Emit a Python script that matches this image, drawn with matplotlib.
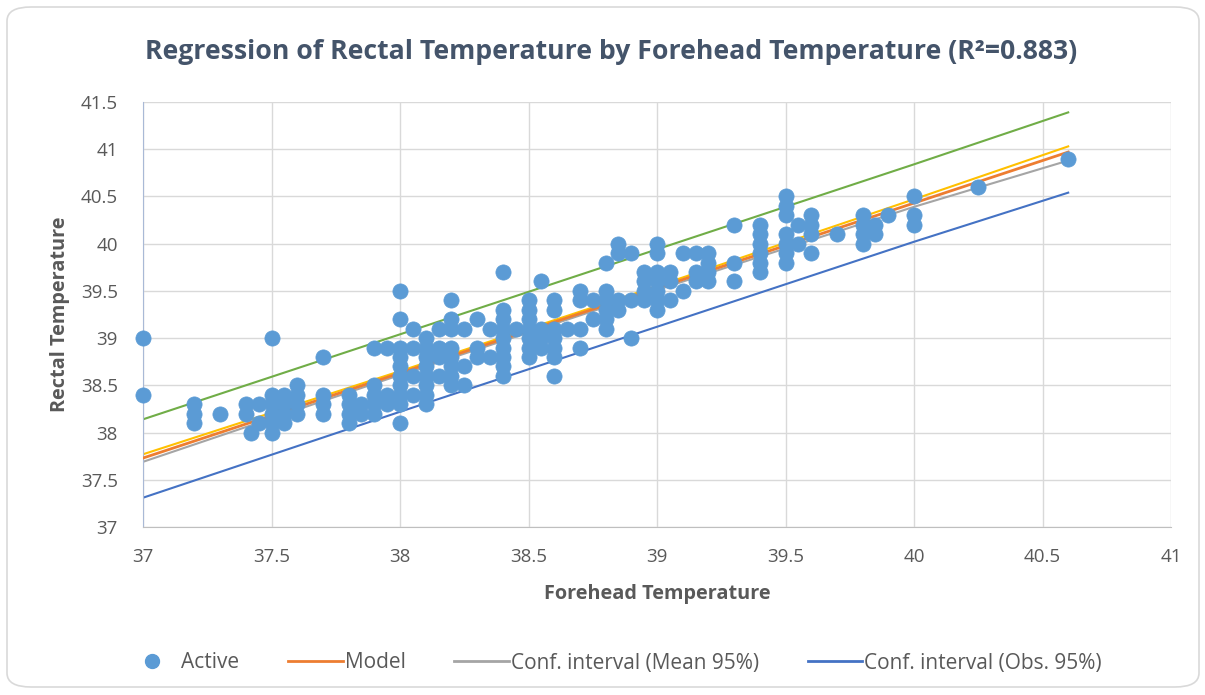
import matplotlib.pyplot as plt
from matplotlib.patches import FancyBboxPatch
from matplotlib.lines import Line2D

# observed points (forehead, rectal)
forehead = [37, 37,
            37.2, 37.2, 37.2, 37.3, 37.4, 37.4, 37.42, 37.45, 37.45,
            37.5, 37.5, 37.5, 37.5, 37.5, 37.5,
            37.55, 37.55, 37.55, 37.55, 37.6, 37.6, 37.6, 37.6,
            37.7, 37.7, 37.7, 37.7, 37.8, 37.8, 37.8, 37.8, 37.85, 37.85,
            37.9, 37.9, 37.9, 37.9, 37.9, 37.95, 37.95, 37.95,
            38.0, 38.0, 38.0, 38.0, 38.0, 38.0, 38.0, 38.0, 38.0, 38.0,
            38.05, 38.05, 38.05, 38.05,
            38.1, 38.1, 38.1, 38.1, 38.1, 38.1, 38.1, 38.1,
            38.15, 38.15, 38.15, 38.15,
            38.2, 38.2, 38.2, 38.2, 38.2, 38.2, 38.2, 38.2,
            38.25, 38.25, 38.25, 38.3, 38.3, 38.3, 38.35, 38.35,
            38.4, 38.4, 38.4, 38.4, 38.4, 38.4, 38.4, 38.4, 38.4, 38.45,
            38.5, 38.5, 38.5, 38.5, 38.5, 38.5, 38.5,
            38.55, 38.55, 38.55, 38.55,
            38.6, 38.6, 38.6, 38.6, 38.6, 38.6, 38.6, 38.65,
            38.7, 38.7, 38.7, 38.7, 38.75, 38.75,
            38.8, 38.8, 38.8, 38.8, 38.8, 38.8,
            38.85, 38.85, 38.85, 38.85, 38.9, 38.9, 38.9,
            38.95, 38.95, 38.95, 38.95,
            39.0, 39.0, 39.0, 39.0, 39.0, 39.0, 39.0,
            39.05, 39.05, 39.05, 39.1, 39.1, 39.15, 39.15, 39.15,
            39.2, 39.2, 39.2, 39.2, 39.3, 39.3, 39.3,
            39.4, 39.4, 39.4, 39.4, 39.4, 39.4,
            39.5, 39.5, 39.5, 39.5, 39.5, 39.5, 39.5, 39.55, 39.55,
            39.6, 39.6, 39.6, 39.6, 39.7,
            39.8, 39.8, 39.8, 39.8, 39.85, 39.85, 39.9,
            40.0, 40.0, 40.0, 40.25, 40.6]
rectal = [39.0, 38.4,
          38.3, 38.2, 38.1, 38.2, 38.3, 38.2, 38.0, 38.3, 38.1,
          39.0, 38.4, 38.3, 38.2, 38.1, 38.0,
          38.4, 38.3, 38.2, 38.1, 38.5, 38.4, 38.3, 38.2,
          38.8, 38.4, 38.3, 38.2, 38.4, 38.3, 38.2, 38.1, 38.3, 38.2,
          38.9, 38.5, 38.4, 38.3, 38.2, 38.9, 38.4, 38.3,
          39.5, 39.2, 38.9, 38.8, 38.7, 38.6, 38.5, 38.4, 38.3, 38.1,
          39.1, 38.9, 38.6, 38.4,
          39.0, 38.9, 38.8, 38.7, 38.6, 38.5, 38.4, 38.3,
          39.1, 38.9, 38.8, 38.6,
          39.4, 39.2, 39.1, 38.9, 38.8, 38.7, 38.6, 38.5,
          39.1, 38.7, 38.5, 39.2, 38.9, 38.8, 39.1, 38.8,
          39.7, 39.3, 39.2, 39.1, 39.0, 38.9, 38.8, 38.7, 38.6, 39.1,
          39.4, 39.3, 39.2, 39.1, 39.0, 38.9, 38.8,
          39.6, 39.1, 39.0, 38.9,
          39.4, 39.3, 39.1, 39.0, 38.9, 38.8, 38.6, 39.1,
          39.5, 39.4, 39.1, 38.9, 39.4, 39.2,
          39.8, 39.5, 39.4, 39.3, 39.2, 39.1,
          40.0, 39.9, 39.4, 39.3, 39.9, 39.4, 39.0,
          39.7, 39.6, 39.5, 39.4,
          40.0, 39.9, 39.7, 39.6, 39.5, 39.4, 39.3,
          39.7, 39.6, 39.4, 39.9, 39.5, 39.9, 39.7, 39.6,
          39.9, 39.8, 39.7, 39.6, 40.2, 39.8, 39.6,
          40.2, 40.1, 40.0, 39.9, 39.8, 39.7,
          40.5, 40.4, 40.3, 40.1, 40.0, 39.9, 39.8, 40.2, 40.0,
          40.3, 40.2, 40.1, 39.9, 40.1,
          40.3, 40.2, 40.1, 40.0, 40.2, 40.1, 40.3,
          40.5, 40.3, 40.2, 40.6, 40.9]

# regression line and bands
line_x = [37, 38, 38.6, 39, 40, 40.6]
model = [37.73, 38.63, 39.17, 39.53, 40.43, 40.97]
mean_hi = [37.77, 38.65, 39.19, 39.55, 40.47, 41.03]
mean_lo = [37.69, 38.61, 39.15, 39.51, 40.39, 40.88]
obs_hi = [38.14, 39.04, 39.58, 39.94, 40.84, 41.39]
obs_lo = [37.31, 38.22, 38.76, 39.12, 40.02, 40.54]

txt = "#595959"
plt.rcParams['font.family'] = ['Open Sans', 'DejaVu Sans']

fig = plt.figure(figsize=(12.05, 6.95), dpi=100)
fig.patches.append(FancyBboxPatch((7 / 1205, 8 / 695), 1192 / 1205, 680 / 695,
                                  boxstyle="round,pad=0,rounding_size=0.02",
                                  transform=fig.transFigure, fc="white",
                                  ec="#D9D9D9", lw=1.2, zorder=-5))
ax = fig.add_axes([143 / 1205, 1 - 527 / 695, 1028 / 1205, 425 / 695])
ax.set_facecolor("none")

ax.plot(line_x, obs_hi, color="#70AD47", lw=1.5, zorder=2)
ax.plot(line_x, mean_hi, color="#FFC000", lw=1.5, zorder=2)
ax.plot(line_x, obs_lo, color="#4472C4", lw=1.5, zorder=2)
ax.plot(line_x, mean_lo, color="#A5A5A5", lw=1.5, zorder=2)
ax.plot(line_x, model, color="#ED7D31", lw=2, zorder=3)
ax.scatter(forehead, rectal, s=120, color="#5B9BD5", edgecolors="#5B9BD5",
           lw=0.5, zorder=4, clip_on=False)

ax.set_xlim(37, 41)
ax.set_ylim(37, 41.5)
ax.set_xticks([37, 37.5, 38, 38.5, 39, 39.5, 40, 40.5, 41])
ax.set_xticklabels(["37", "37.5", "38", "38.5", "39", "39.5", "40", "40.5", "41"])
ax.set_yticks([37, 37.5, 38, 38.5, 39, 39.5, 40, 40.5, 41, 41.5])
ax.set_yticklabels(["37", "37.5", "38", "38.5", "39", "39.5", "40", "40.5", "41", "41.5"])
ax.grid(True, color="#D9D9D9", lw=1, zorder=0)
ax.set_axisbelow(True)
for s in ["top", "right"]:
    ax.spines[s].set_visible(False)
ax.spines["left"].set_color("#A9B9D6")
ax.spines["bottom"].set_color("#BFBFBF")
ax.tick_params(length=0, labelsize=13.5, labelcolor=txt)
ax.tick_params(axis="x", pad=15)
ax.tick_params(axis="y", pad=18)

ax.set_xlabel("Forehead Temperature", fontsize=14.3, fontweight="bold",
              color=txt, labelpad=13)
ax.set_ylabel("Rectal Temperature", fontsize=14.3, fontweight="bold",
              color=txt, labelpad=8)
fig.text(0.507, 1 - 52 / 695, "Regression of Rectal Temperature by Forehead Temperature (R²=0.883)",
         ha="center", va="center", fontsize=19.2, fontweight="bold", color="#44546A")

handles = [Line2D([], [], ls="", marker="o", ms=10, color="#5B9BD5"),
           Line2D([], [], color="#ED7D31", lw=2),
           Line2D([], [], color="#A5A5A5", lw=2),
           Line2D([], [], color="#4472C4", lw=2)]
labels = ["Active", "Model", "Conf. interval (Mean 95%)", "Conf. interval (Obs. 95%)"]
fig.legend(handles, labels, loc="center", bbox_to_anchor=(0.509, 1 - 663 / 695),
           ncol=4, frameon=False, fontsize=15, labelcolor=txt,
           handlelength=2.6, handletextpad=0.1, columnspacing=2.35)

fig.savefig("out.png", dpi=100)
